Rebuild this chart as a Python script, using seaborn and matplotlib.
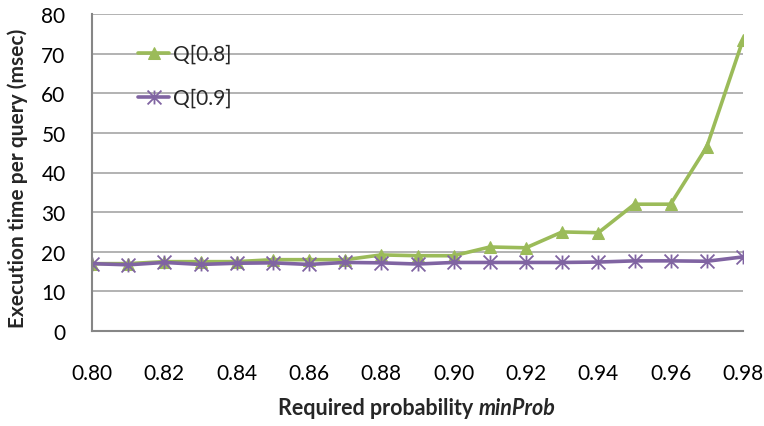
import matplotlib
matplotlib.use("Agg")
import matplotlib.pyplot as plt
import seaborn as sns
import numpy as np
import pandas as pd
from matplotlib.path import Path
from matplotlib.offsetbox import TextArea, HPacker, AnnotationBbox

# data
min_prob = [0.80, 0.81, 0.82, 0.83, 0.84, 0.85, 0.86, 0.87, 0.88, 0.89,
            0.90, 0.91, 0.92, 0.93, 0.94, 0.95, 0.96, 0.97, 0.98]
q08 = [17.0, 17.0, 17.5, 17.5, 17.5, 18.0, 18.0, 18.0, 19.2, 19.0,
       19.0, 21.2, 21.0, 25.0, 24.8, 32.0, 32.0, 46.5, 73.5]
q09 = [17.0, 16.7, 17.3, 16.8, 17.1, 17.2, 16.8, 17.3, 17.2, 16.9,
       17.3, 17.3, 17.3, 17.3, 17.4, 17.7, 17.7, 17.6, 18.7]
series_names = ["Q[0.8]", "Q[0.9]"]
x_ticks = [0.80, 0.82, 0.84, 0.86, 0.88, 0.90, 0.92, 0.94, 0.96, 0.98]
y_ticks = [0, 10, 20, 30, 40, 50, 60, 70, 80]

green = "#9BBB59"
purple = "#8064A2"
grid_col = "#A6A6A6"
axis_col = "#868686"

sns.set_style("white")
plt.rcParams["font.family"] = ["Lato", "DejaVu Sans"]

df = pd.DataFrame({"minProb": min_prob, series_names[0]: q08, series_names[1]: q09})

# excel style star marker: X with a vertical bar
star = Path([(0, -1), (0, 1), (-1, -1), (1, 1), (-1, 1), (1, -1)],
            [Path.MOVETO, Path.LINETO, Path.MOVETO, Path.LINETO, Path.MOVETO, Path.LINETO])

fig = plt.figure(figsize=(7.64, 4.27), dpi=100)
ax = fig.add_axes([92 / 764, 1 - 332 / 427, (743 - 92) / 764, (332 - 15) / 427])

sns.lineplot(data=df, x="minProb", y=series_names[0], ax=ax, color=green, lw=2.6,
             marker="^", markersize=9, markeredgecolor=green, label=series_names[0])
sns.lineplot(data=df, x="minProb", y=series_names[1], ax=ax, color=purple, lw=2.6,
             marker=star, markersize=10, markeredgewidth=1.3, markeredgecolor=purple,
             markerfacecolor="none", label=series_names[1])

ax.set_xlim(0.80, 0.98)
ax.set_ylim(0, 80)
ax.set_xticks(x_ticks)
ax.set_xticklabels([f"{t:.2f}" for t in x_ticks])
ax.set_yticks(y_ticks)
ax.yaxis.grid(True, color=grid_col, lw=1.2)
ax.set_axisbelow(True)
for s in ["top", "right"]:
    ax.spines[s].set_visible(False)
for s in ["left", "bottom"]:
    ax.spines[s].set_color(axis_col)
    ax.spines[s].set_linewidth(1.5)
ax.tick_params(axis="both", direction="out", length=6, width=1.2, color=axis_col,
               labelsize=15, colors="#000000")
ax.tick_params(axis="x", pad=17)
ax.tick_params(axis="y", pad=13)
for t in ax.get_xticklines() + ax.get_yticklines():
    t.set_color(axis_col)

ax.set_xlabel("")
ax.set_ylabel("")
fig.text(18 / 764, 1 - 178 / 427, "Execution time per query (msec)", fontsize=15,
         fontweight="bold", rotation=90, ha="center", va="center")

# x label with italic part
parts = HPacker(children=[
    TextArea("Required probability ", textprops=dict(fontsize=15.5, fontweight="bold")),
    TextArea("minProb", textprops=dict(fontsize=15.5, fontweight="bold", style="italic")),
], align="baseline", pad=0, sep=0)
ab = AnnotationBbox(parts, (417 / 764, 1 - 409 / 427), xycoords="figure fraction",
                    frameon=False, box_alignment=(0.5, 0.5))
fig.add_artist(ab)

ax.legend(loc="upper left", bbox_to_anchor=(138 / 764, 1 - 45 / 427),
          bbox_transform=fig.transFigure, frameon=False, fontsize=15,
          borderpad=0, borderaxespad=0, handlelength=1.5, handletextpad=0.2,
          labelspacing=1.15)

fig.savefig("out.png", dpi=100)
